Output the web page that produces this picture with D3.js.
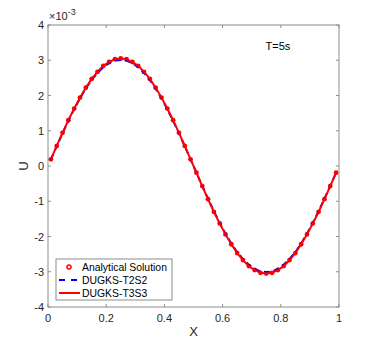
<!DOCTYPE html>
<html><head><meta charset="utf-8">
<script src="https://cdn.jsdelivr.net/npm/d3@7"></script>
<style>body{margin:0;background:#fff}svg{display:block}text{font-family:"Liberation Sans",Arial,sans-serif}</style>
</head><body><svg id="c" width="374" height="346"></svg>
<script>
const xs = [0.01,0.03,0.05,0.07,0.09,0.11,0.13,0.15,0.17,0.19,0.21,0.23,0.25,0.27,0.29,0.31,0.33,0.35,0.37,0.39,0.41,0.43,0.45,0.47,0.49,
            0.51,0.53,0.55,0.57,0.59,0.61,0.63,0.65,0.67,0.69,0.71,0.73,0.75,0.77,0.79,0.81,0.83,0.85,0.87,0.89,0.91,0.93,0.95,0.97,0.99];
const analytical = [0.19,0.57,0.94,1.30,1.63,1.94,2.22,2.47,2.67,2.84,2.95,3.03,3.05,3.03,2.95,2.84,2.67,2.47,2.22,1.94,1.63,1.30,0.94,0.57,0.19,
            -0.19,-0.57,-0.94,-1.30,-1.63,-1.94,-2.22,-2.47,-2.67,-2.84,-2.95,-3.03,-3.05,-3.03,-2.95,-2.84,-2.67,-2.47,-2.22,-1.94,-1.63,-1.30,-0.94,-0.57,-0.19];
const t2s2 = [0.19,0.56,0.93,1.28,1.61,1.92,2.20,2.44,2.64,2.80,2.92,2.99,3.01,2.99,2.92,2.80,2.64,2.44,2.20,1.92,1.61,1.28,0.93,0.56,0.19,
            -0.19,-0.56,-0.93,-1.28,-1.61,-1.92,-2.20,-2.44,-2.64,-2.80,-2.92,-2.99,-3.01,-2.99,-2.92,-2.80,-2.64,-2.44,-2.20,-1.92,-1.61,-1.28,-0.93,-0.56,-0.19];
const t3s3 = [0.19,0.57,0.94,1.30,1.63,1.94,2.22,2.47,2.67,2.84,2.95,3.03,3.05,3.03,2.95,2.84,2.67,2.47,2.22,1.94,1.63,1.30,0.94,0.57,0.19,
            -0.19,-0.57,-0.94,-1.30,-1.63,-1.94,-2.22,-2.47,-2.67,-2.84,-2.95,-3.03,-3.05,-3.03,-2.95,-2.84,-2.67,-2.47,-2.22,-1.94,-1.63,-1.30,-0.94,-0.57,-0.19];
const xTicks = [0,0.2,0.4,0.6,0.8,1];
const xTickLabels = ["0","0.2","0.4","0.6","0.8","1"];
const yTicks = [-4,-3,-2,-1,0,1,2,3,4];
const legendLabels = ["Analytical Solution","DUGKS-T2S2","DUGKS-T3S3"];

const svg = d3.select("#c");
const L=48, R=339, T=25, B=307;
const x = d3.scaleLinear().domain([0,1]).range([L,R]);
const y = d3.scaleLinear().domain([-4,4]).range([B,T]);
const axCol="#262626", boxCol="#8c8c8c";

svg.append("rect").attr("x",L).attr("y",T).attr("width",R-L).attr("height",B-T)
  .attr("fill","none").attr("stroke",boxCol).attr("stroke-width",1);

const tl=3;
xTicks.forEach(v=>{
  svg.append("line").attr("x1",x(v)).attr("x2",x(v)).attr("y1",B).attr("y2",B-tl).attr("stroke",boxCol);
  svg.append("line").attr("x1",x(v)).attr("x2",x(v)).attr("y1",T).attr("y2",T+tl).attr("stroke",boxCol);
});
yTicks.forEach(v=>{
  svg.append("line").attr("x1",L).attr("x2",L+tl).attr("y1",y(v)).attr("y2",y(v)).attr("stroke",boxCol);
  svg.append("line").attr("x1",R).attr("x2",R-tl).attr("y1",y(v)).attr("y2",y(v)).attr("stroke",boxCol);
});
svg.selectAll(".xl").data(xTicks).enter().append("text").attr("x",d=>x(d)).attr("y",B+15)
  .attr("text-anchor","middle").attr("font-size",11).attr("fill",axCol).text((d,i)=>xTickLabels[i]);
svg.selectAll(".yl").data(yTicks).enter().append("text").attr("x",L-4).attr("y",d=>y(d)+4)
  .attr("text-anchor","end").attr("font-size",11).attr("fill",axCol).text(d=>d);
const ex = svg.append("text").attr("x",L+1).attr("y",T-5).attr("font-size",11).attr("fill",axCol);
ex.append("tspan").text("\u00d710");
ex.append("tspan").attr("dy",-5).attr("font-size",9).text("-3");
svg.append("text").attr("x",(L+R)/2).attr("y",B+29).attr("text-anchor","middle").attr("font-size",13).attr("fill",axCol).text("X");
svg.append("text").attr("transform",`translate(${L-20},${y(0)}) rotate(-90)`).attr("text-anchor","middle").attr("font-size",13).attr("fill",axCol).text("U");
svg.append("text").attr("x",278).attr("y",50).attr("text-anchor","middle").attr("font-size",11).attr("fill","#000").text("T=5s");

const pts=(arr)=>xs.map((v,i)=>[v,arr[i]]);
const line=d3.line().x(d=>x(d[0])).y(d=>y(d[1]));
svg.append("g").selectAll("circle").data(pts(analytical)).enter().append("circle")
  .attr("cx",d=>x(d[0])).attr("cy",d=>y(d[1])).attr("r",2.4).attr("fill","#ff0000");
svg.append("path").datum(pts(t2s2)).attr("d",line).attr("fill","none").attr("stroke","#0000ff").attr("stroke-width",2).attr("stroke-dasharray","6,4");
svg.append("path").datum(pts(t3s3)).attr("d",line).attr("fill","none").attr("stroke","#ff0000").attr("stroke-width",2);

const lg=svg.append("g");
lg.append("rect").attr("x",56).attr("y",259).attr("width",116).attr("height",41).attr("fill","#fff").attr("stroke",boxCol);
const rows=[267,280,293];
lg.append("circle").attr("cx",69).attr("cy",rows[0]).attr("r",2).attr("fill","#fff").attr("stroke","#ff0000").attr("stroke-width",1.5);
lg.append("line").attr("x1",59).attr("x2",77).attr("y1",rows[1]).attr("y2",rows[1]).attr("stroke","#0000ff").attr("stroke-width",2).attr("stroke-dasharray","6,6");
lg.append("line").attr("x1",59).attr("x2",80).attr("y1",rows[2]).attr("y2",rows[2]).attr("stroke","#ff0000").attr("stroke-width",2);
legendLabels.forEach((t,i)=>lg.append("text").attr("x",82).attr("y",rows[i]+4).attr("font-size",10.4).attr("fill","#000").text(t));
</script></body></html>
